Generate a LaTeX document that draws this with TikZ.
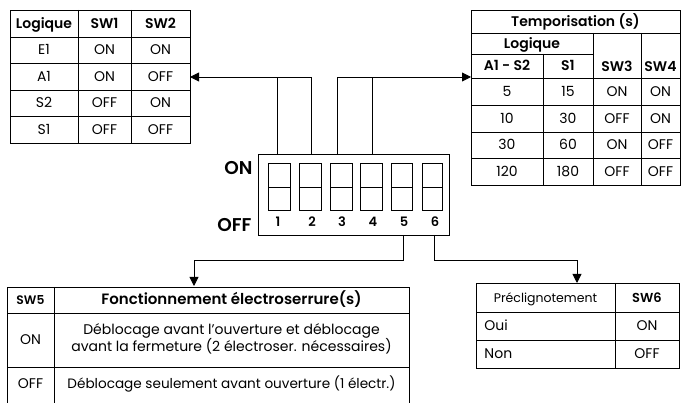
\documentclass[tikz,border=0pt]{standalone}
\usepackage{fontspec}
\setmainfont{Poppins}[BoldFont=* SemiBold]
\usetikzlibrary{arrows.meta}
\begin{document}
\begin{tikzpicture}[x=1pt,y=-1pt,line width=0.9pt,
  txt/.style={inner sep=0pt,text height=10pt,text depth=0pt,font=\fontsize{14}{16}\selectfont},
  hdr/.style={txt,font=\fontsize{14}{16}\selectfont\bfseries},
  big/.style={inner sep=0pt,text height=13pt,text depth=0pt,font=\fontsize{18.5}{20}\selectfont\bfseries},
  num/.style={inner sep=0pt,text height=9.5pt,text depth=0pt,font=\fontsize{13}{14}\selectfont\bfseries},
  arr/.style={-{Triangle[length=9pt,width=9pt]}}]
\useasboundingbox (0,0) rectangle (681,403);

% ---------- left table ----------
\draw (10,10) rectangle (190,143);
\foreach \y in {37,63,90,116} \draw (10,\y) -- (190,\y);
\foreach \x in {78,131} \draw (\x,10) -- (\x,143);
\node[hdr] (lh1) at (44,23.5) {Logique};
\node[hdr] (lh2) at (104.5,23.5) {SW1};
\node[hdr] (lh3) at (160.5,23.5) {SW2};
\foreach \a/\b/\c/\y [count=\i] in {E1/ON/ON/50,A1/ON/OFF/76.5,S2/OFF/ON/103,S1/OFF/OFF/129.5}{
  \node[txt] (la\i) at (44,\y) {\a};
  \node[txt] (lb\i) at (104.5,\y) {\b};
  \node[txt] (lc\i) at (160.5,\y) {\c};
}
\coordinate (lefttab) at (190,77);

% ---------- right table ----------
\draw (471,10) rectangle (680,185);
\draw (471,33) -- (680,33);
\draw (471,54) -- (593,54);
\foreach \y in {78,105,132,158} \draw (471,\y) -- (680,\y);
\draw (543,54) -- (543,185);
\draw (593,33) -- (593,185);
\draw (641,33) -- (641,185);
\node[hdr] (rh0) at (575.5,21.5) {Temporisation (s)};
\node[hdr] (rh1) at (532,43.5) {Logique};
\node[hdr] (rh2) at (507,66) {A1 - S2};
\node[hdr] (rh3) at (568,66) {S1};
\node[hdr] (rh4) at (617,67) {SW3};
\node[hdr] (rh5) at (660.5,67) {SW4};
\foreach \a/\b/\c/\d/\y [count=\i] in {5/15/ON/ON/91.5,10/30/OFF/ON/118.5,30/60/ON/OFF/145,120/180/OFF/OFF/171.5}{
  \node[txt] (ra\i) at (507,\y) {\a};
  \node[txt] (rb\i) at (568,\y) {\b};
  \node[txt] (rc\i) at (617,\y) {\c};
  \node[txt] (rd\i) at (660.5,\y) {\d};
}
\coordinate (righttab) at (471,77);

% ---------- DIP switch ----------
\node[draw,minimum width=191pt,minimum height=81pt,inner sep=0pt,anchor=north west] (dip) at (258,154) {};
\foreach \xa/\xb [count=\i] in {268/290,299/321,330/352,360/382,391/412,422/442}{
  \draw (\xa,163) rectangle (\xb,210);
  \draw (\xa,187) -- (\xb,187);
}
\foreach \x [count=\i] in {278,312,342,373,404,435}
  \node[num] (n\i) at (\x,222) {\i};
\node[big,anchor=east] (onlab) at (253,168) {ON};
\node[big,anchor=east] (offlab) at (252,225) {OFF};

\coordinate (s1t) at (277,154);
\coordinate (s2t) at (311,154);
\coordinate (s3t) at (337,154);
\coordinate (s4t) at (372,154);
\coordinate (s5b) at (403,235);
\coordinate (s6b) at (434,235);
\coordinate (j1) at (277,77);
\coordinate (j3) at (372,77);

% ---------- connectors ----------
\draw (s1t) -- (j1);
\draw[arr] (s2t) -- (311,77) -- (lefttab);
\draw (s4t) -- (j3);
\draw[arr] (s3t) -- (337,77) -- (righttab);

% ---------- bottom-left table ----------
\draw (7,403) -- (7,287) -- (409,287) -- (409,403);
\draw (7,313) -- (409,313);
\draw (7,367) -- (409,367);
\draw (54,287) -- (54,403);
\node[hdr,font=\fontsize{12.3}{14}\selectfont\bfseries] (bh1) at (30.5,300) {SW5};
\node[txt,font=\fontsize{15}{17}\selectfont\bfseries] (bh2) at (231.5,300) {Fonctionnement électroserrure(s)};
\node[txt] (bon) at (30.5,340) {ON};
\node[txt] (bt1) at (231.5,330) {Déblocage avant l'ouverture et déblocage};
\node[txt] (bt2) at (231.5,347) {avant la fermeture (2 électroser. nécessaires)};
\node[txt] (boff) at (30.5,384) {OFF};
\node[txt,font=\fontsize{13.6}{16}\selectfont] (bt3) at (231.5,384) {Déblocage seulement avant ouverture (1 électr.)};
\coordinate (bltab) at (194,286);
\draw[arr] (s5b) -- (403,260) -- (194,260) -- (bltab);

% ---------- bottom-right table ----------
\draw (476,283) rectangle (679,368);
\draw (476,312) -- (679,312);
\draw (476,340) -- (679,340);
\draw (615,283) -- (615,368);
\node[txt,font=\fontsize{12.5}{14}\selectfont] (ph1) at (545.5,297.5) {Préclignotement};
\node[hdr,font=\fontsize{13}{14}\selectfont\bfseries] (ph2) at (647,297.5) {SW6};
\node[txt,anchor=west] (po) at (484,326) {Oui};
\node[txt] (p1) at (647,326) {ON};
\node[txt,anchor=west] (pn) at (484,354) {Non};
\node[txt] (p2) at (647,354) {OFF};
\coordinate (brtab) at (577,283);
\draw[arr] (s6b) -- (434,260) -- (577,260) -- (brtab);
\end{tikzpicture}
\end{document}
